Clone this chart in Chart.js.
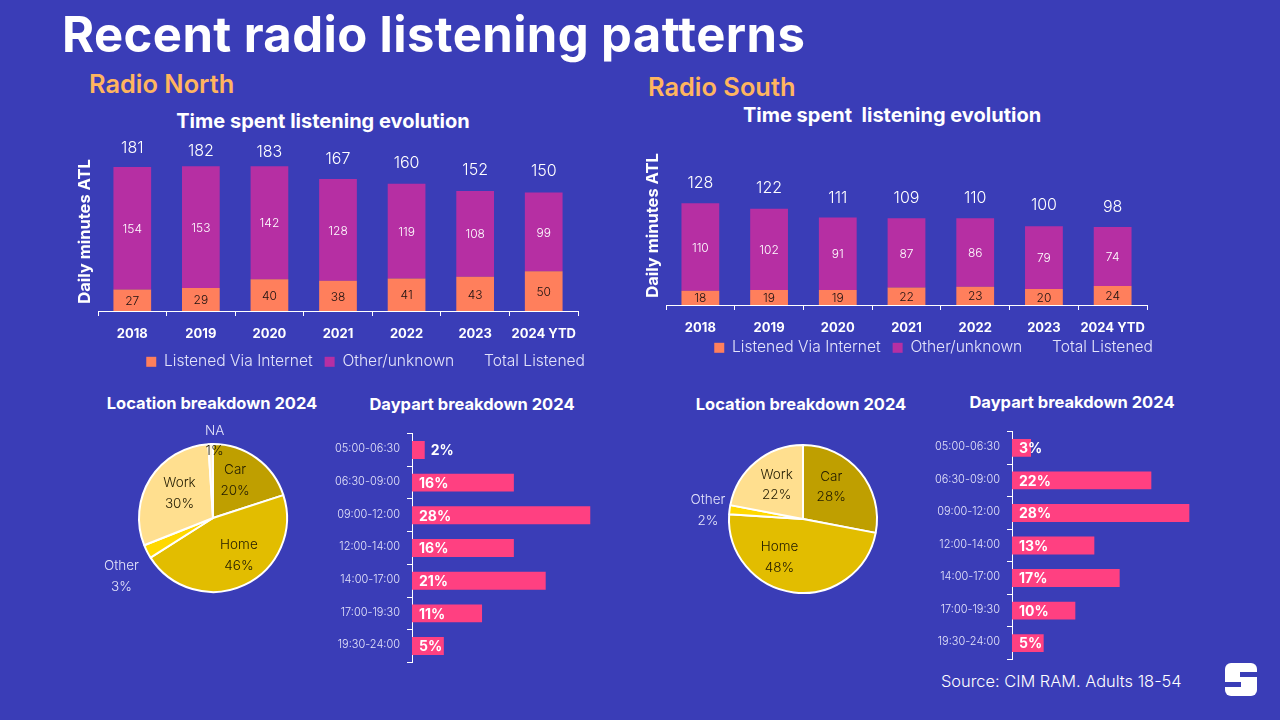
<!DOCTYPE html>
<html><head><meta charset="utf-8">
<script src="https://cdn.jsdelivr.net/npm/chart.js@4/dist/chart.umd.min.js"></script>
<style>
html,body{margin:0;padding:0;width:1280px;height:720px;overflow:hidden;background:#3A3DB7;font-family:Inter,sans-serif}
.t{position:absolute;white-space:pre;color:#fff;transform:translateY(-50%);line-height:1.2}
.c{transform:translate(-50%,-50%)}
.box{position:absolute}
.box canvas{display:block}
</style></head><body>
<div class="t" style="left:62px;top:35px;font-size:49px;font-weight:700;letter-spacing:.4px">Recent radio listening patterns</div>
<div class="t" style="left:89px;top:84px;font-size:25.4px;font-weight:600;color:#FFB55F">Radio North</div>
<div class="t" style="left:648px;top:87px;font-size:25.4px;font-weight:600;color:#FFB55F">Radio South</div>
<div class="t c" style="left:323px;top:121px;font-size:20px;font-weight:700">Time spent listening evolution</div>
<div class="t c" style="left:892px;top:115px;font-size:20px;font-weight:700">Time spent  listening evolution</div>
<div class="t c" style="left:212px;top:404px;font-size:16.5px;font-weight:700">Location breakdown 2024</div>
<div class="t c" style="left:472px;top:405px;font-size:16.5px;font-weight:700">Daypart breakdown 2024</div>
<div class="t c" style="left:801px;top:405px;font-size:16.5px;font-weight:700">Location breakdown 2024</div>
<div class="t c" style="left:1072px;top:403px;font-size:16.5px;font-weight:700">Daypart breakdown 2024</div>
<div class="t" style="left:941px;top:682px;font-size:16.4px;font-weight:300">Source: CIM RAM. Adults 18-54</div>
<svg class="box" style="left:1225px;top:663px" width="32" height="33" viewBox="0 0 32 33"><rect width="32" height="33" rx="6" fill="#fff"/><rect x="15" y="9" width="17" height="5" fill="#3A3DB7"/><rect x="0" y="19" width="16" height="5" fill="#3A3DB7"/></svg>

<div class="box" style="left:70px;top:130px;width:527px;height:243px"><canvas id="barN"></canvas></div>
<div class="box" style="left:638px;top:124px;width:527px;height:243px"><canvas id="barS"></canvas></div>
<div class="box" style="left:97px;top:398px;width:232px;height:240px"><canvas id="pieN"></canvas></div>
<div class="box" style="left:678px;top:399px;width:250px;height:240px"><canvas id="pieS"></canvas></div>
<div class="box" style="left:330px;top:420px;width:273px;height:256px"><canvas id="dayN"></canvas></div>
<div class="box" style="left:930px;top:418px;width:272px;height:255px"><canvas id="dayS"></canvas></div>

<script>
const years = ['2018','2019','2020','2021','2022','2023','2024 YTD'];
const northInternet = [27,29,40,38,41,43,50];
const northOther = [154,153,142,128,119,108,99];
const northTotal = [181,182,183,167,160,152,150];
const southInternet = [18,19,19,22,23,20,24];
const southOther = [110,102,91,87,86,79,74];
const southTotal = [128,122,111,109,110,100,98];
const northLocations = ['Car','Home','Other','Work','NA'];
const northLocationValues = [20,46,3,30,1];
const southLocations = ['Car','Home','Other','Work'];
const southLocationValues = [28,48,2,22];
const dayparts = ['05:00-06:30','06:30-09:00','09:00-12:00','12:00-14:00','14:00-17:00','17:00-19:30','19:30-24:00'];
const northDaypart = [2,16,28,16,21,11,5];
const southDaypart = [3,22,28,13,17,10,5];

const FONT='Inter';
const LIGHT='#E4E4FA';
const LEGEND_PAD=12;
Chart.defaults.font.family=FONT;
Chart.defaults.animation=false;
Chart.defaults.responsive=true;
Chart.defaults.maintainAspectRatio=false;
Chart.defaults.layout.autoPadding=false;

const barLabels={id:'barLabels',
 afterLayout(c,a,o){c.legend.top=o.legendY-LEGEND_PAD-9;},
 afterDatasetsDraw(c,a,o){
  const x=c.ctx;x.save();x.textAlign='center';x.textBaseline='middle';
  c.data.datasets.forEach((d,i)=>{
    c.getDatasetMeta(i).data.forEach((el,j)=>{
      if(d.type==='line'){x.font='300 16px '+FONT;x.fillStyle='#fff';x.fillText(d.data[j],el.x,el.y-o.lift[j]);}
      else{x.font='300 12px '+FONT;x.fillStyle=i===0?'#1a1010':'#fff';x.fillText(d.data[j],el.x,(el.y+el.base)/2+1);}
    });
  });x.restore();
}};
function stacked(id,internet,other,total,legendY,W,lift){
  new Chart(document.getElementById(id),{type:'bar',plugins:[barLabels],data:{labels:years,datasets:[
    {label:'Listened Via Internet',data:internet,backgroundColor:'#FF7F5C',stack:'s',categoryPercentage:.55,barPercentage:1},
    {label:'Other/unknown',data:other,backgroundColor:'#B62FA3',stack:'s',categoryPercentage:.55,barPercentage:1},
    {type:'line',label:'Total Listened',data:total,showLine:false,pointRadius:0,borderColor:'rgba(0,0,0,0)',backgroundColor:'rgba(0,0,0,0)'}
  ]},options:{
    layout:{padding:{top:22,left:0,right:0,bottom:0}},
    plugins:{tooltip:{enabled:false},barLabels:{legendY,lift},legend:{position:'bottom',align:'end',maxHeight:30,labels:{color:LIGHT,boxWidth:10,boxHeight:10,padding:LEGEND_PAD,font:{size:15.6,weight:'300'}}}},
    scales:{
      x:{stacked:true,afterFit:s=>{s.height=32},border:{color:'#fff',width:1},grid:{drawOnChartArea:false,color:'#fff',tickLength:5,offset:true},
         ticks:{color:'#fff',font:{size:13,weight:'700'},padding:10,maxRotation:0,autoSkip:false}},
      y:{stacked:true,min:0,max:200,afterFit:s=>{s.width=28},grid:{display:false},border:{display:false},ticks:{display:false},
         title:{display:true,text:'Daily minutes ATL',color:'#fff',font:{size:16.5,weight:'700'},padding:{top:5,bottom:0}}},
      y2:{position:'right',display:true,afterFit:s=>{s.width=W},grid:{display:false},border:{display:false},ticks:{display:false}}
    }}});
}
stacked('barN',northInternet,northOther,northTotal,233,19,[19,15,13,19,21,20,21]);
stacked('barS',southInternet,southOther,southTotal,225,18,[20,20,19,20,19,20,20]);

const pieLabels={id:'pieLabels',afterDatasetsDraw(c,a,o){
  const x=c.ctx;x.save();x.textAlign='center';x.textBaseline='middle';x.font='300 13.5px '+FONT;
  c.getDatasetMeta(0).data.forEach((el,i)=>{
    const m=(el.startAngle+el.endAngle)/2,r=el.outerRadius*.6;
    const px=el.x+Math.cos(m)*r+o.nudge[i][0],py=el.y+Math.sin(m)*r+o.nudge[i][1];
    const name=c.data.labels[i];
    const inside=['Car','Home','Work'].includes(name);
    x.fillStyle=inside?'#201a00':LIGHT;x.fillText(name,px,py-10);
    x.fillStyle=(inside||name==='NA')?'#201a00':LIGHT;x.fillText(c.data.datasets[0].data[i]+'%',px,py+10.5);
  });x.restore();
}};
function pie(id,labels,values,colors,nudge){
  new Chart(document.getElementById(id),{type:'pie',plugins:[pieLabels],data:{labels,datasets:[{data:values,backgroundColor:colors,borderColor:'#fff',borderWidth:2,radius:74}]},
    options:{plugins:{tooltip:{enabled:false},legend:{display:false},pieLabels:{nudge}}}});
}
pie('pieN',northLocations,northLocationValues,['#BF9F00','#E2BD00','#FFD800','#FFDF8F','#FFF4D6'],[[-4,-2],[7,-3],[-52,38],[4,-1],[3,-33]]);
pie('pieS',southLocations,southLocationValues,['#BF9F00','#E2BD00','#FFD800','#FFDF8F'],[[-6,-4],[-18,-6],[-51,-3],[2,0]]);

const dayLabels={id:'dayLabels',afterDatasetsDraw(c){
  const x=c.ctx;x.save();x.textAlign='left';x.textBaseline='middle';x.font='700 14px '+FONT;x.fillStyle='#fff';
  c.getDatasetMeta(0).data.forEach((el,i)=>{
    const v=c.data.datasets[0].data[i];
    x.fillText(v+'%',v<3?el.x+6:el.base+7,el.y+1);
  });x.restore();
}};
function daypart(id,values){
  new Chart(document.getElementById(id),{type:'bar',plugins:[dayLabels],data:{labels:dayparts,datasets:[{data:values,backgroundColor:'#FF4081',categoryPercentage:.55,barPercentage:1}]},
    options:{indexAxis:'y',layout:{padding:{top:8.4,bottom:6,left:0,right:0}},
      plugins:{tooltip:{enabled:false},legend:{display:false}},
      scales:{x:{display:false,min:0,max:30},
        y:{afterFit:s=>{s.width=82},border:{color:'#fff',width:1},grid:{drawOnChartArea:false,color:'#fff',tickLength:5,offset:true},
           ticks:{color:LIGHT,font:{size:11,weight:'300'},padding:7,autoSkip:false,labelOffset:-1}}}}});
}
daypart('dayN',northDaypart);
daypart('dayS',southDaypart);
</script>
</body></html>
